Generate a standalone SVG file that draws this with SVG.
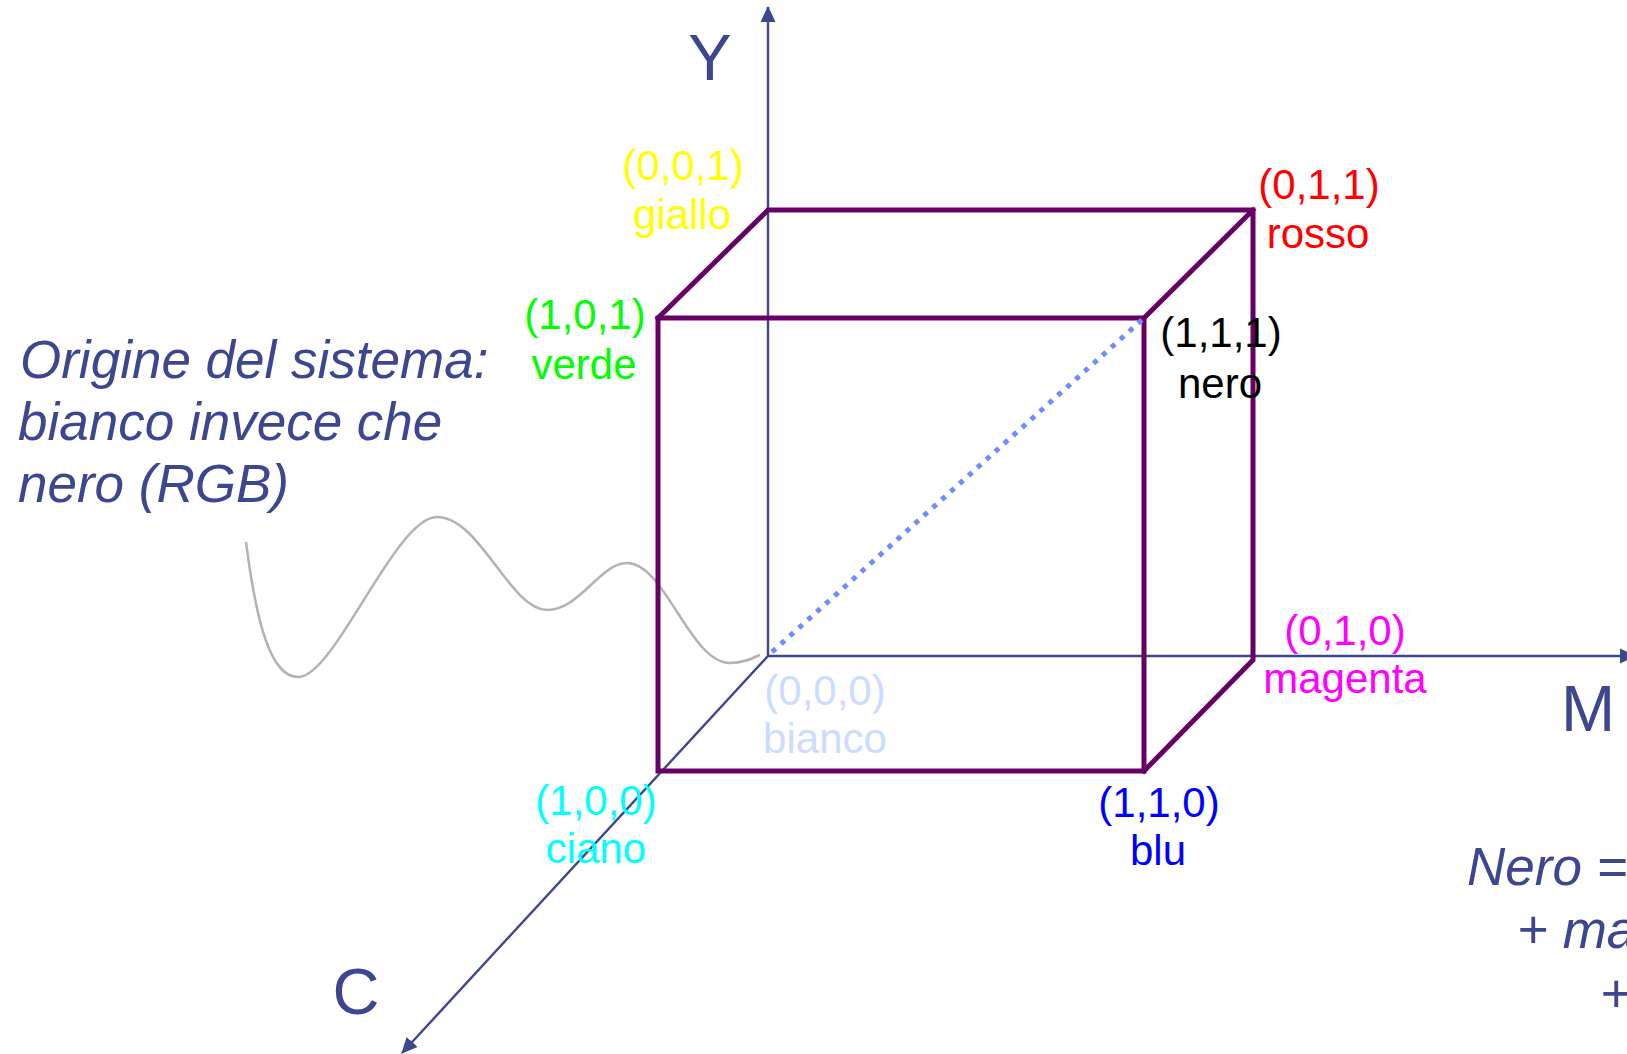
<svg xmlns="http://www.w3.org/2000/svg" width="1627" height="1054" viewBox="0 0 1627 1054">
<style>
.axis{stroke:#3E4690;stroke-width:2.4;fill:none}
.cube{stroke:#660066;stroke-width:5;fill:none;stroke-linecap:square}
.lbl{font-family:"Liberation Sans",Arial,sans-serif;font-size:42px;text-anchor:middle}
.ax{font-family:"Liberation Sans",Arial,sans-serif;font-size:65px;fill:#3E4690;text-anchor:middle}
.note{font-family:"Liberation Sans",Arial,sans-serif;font-size:53px;font-style:italic;fill:#3E4690}
</style>
<defs>
<marker id="arr" markerUnits="userSpaceOnUse" markerWidth="16" markerHeight="16" viewBox="0 0 16 16" refX="15" refY="8" orient="auto">
<path d="M0,0.5 L16,8 L0,15.5 z" fill="#3E4690"/>
</marker>
</defs>
<rect width="1627" height="1054" fill="#ffffff"/>
<g id="note-curve">
<path d="M246,542 C256,620 270,677 298,677 C335,677 395,517 437,517 C480,517 510,610 547,610 C580,610 600,563 627,563 C665,563 690,663 730,663 C742,663 751,659 760,655" stroke="#B3B3B3" stroke-width="2.5" fill="none"/>
</g>
<g id="connectors">
<line class="axis" x1="768" y1="656" x2="768" y2="7" marker-end="url(#arr)"/>
<line class="axis" x1="768" y1="656" x2="1635" y2="656" marker-end="url(#arr)"/>
<line class="axis" x1="768" y1="656" x2="402" y2="1053" marker-end="url(#arr)"/>
</g>
<g id="cube">
<rect class="cube" x="658" y="318" width="486" height="453"/>
<path class="cube" d="M658,318 L768,210 L1253,210 L1253,660 L1144,771 M1144,318 L1253,210"/>
</g>
<g id="diagonal">
<line x1="772" y1="652" x2="1144" y2="318" stroke="#6F8BFF" stroke-width="5" stroke-dasharray="5 7"/>
</g>
<g id="axis-labels">
<text class="ax" x="710" y="80">Y</text>
<text class="ax" x="1588" y="731">M</text>
<text class="ax" x="356" y="1014">C</text>
</g>
<g id="v-giallo" class="lbl" fill="#FFFF00">
<text x="683" y="180">(0,0,1)</text>
<text x="682" y="229">giallo</text>
</g>
<g id="v-rosso" class="lbl" fill="#FF0000">
<text x="1319" y="199">(0,1,1)</text>
<text x="1318" y="248">rosso</text>
</g>
<g id="v-verde" class="lbl" fill="#00FF00">
<text x="585" y="329">(1,0,1)</text>
<text x="584" y="379">verde</text>
</g>
<g id="v-nero" class="lbl" fill="#000000">
<text x="1221" y="347">(1,1,1)</text>
<text x="1220" y="398">nero</text>
</g>
<g id="v-magenta" class="lbl" fill="#FF00FF">
<text x="1345" y="645">(0,1,0)</text>
<text x="1345" y="693">magenta</text>
</g>
<g id="v-bianco" class="lbl" fill="#CCDCFF">
<text x="825" y="705">(0,0,0)</text>
<text x="825" y="753">bianco</text>
</g>
<g id="v-ciano" class="lbl" fill="#00FFFF">
<text x="596" y="815">(1,0,0)</text>
<text x="596" y="863">ciano</text>
</g>
<g id="v-blu" class="lbl" fill="#0000FF">
<text x="1159" y="817">(1,1,0)</text>
<text x="1158" y="865">blu</text>
</g>
<g id="note-origin" class="note">
<text x="20" y="378">Origine del sistema:</text>
<text x="18" y="440">bianco invece che</text>
<text x="18" y="502">nero (RGB)</text>
</g>
<g id="note-nero" class="note">
<text x="1467" y="885">Nero =</text>
<text x="1517" y="948">+ ma</text>
<text x="1600" y="1012">+</text>
</g>
</svg>
